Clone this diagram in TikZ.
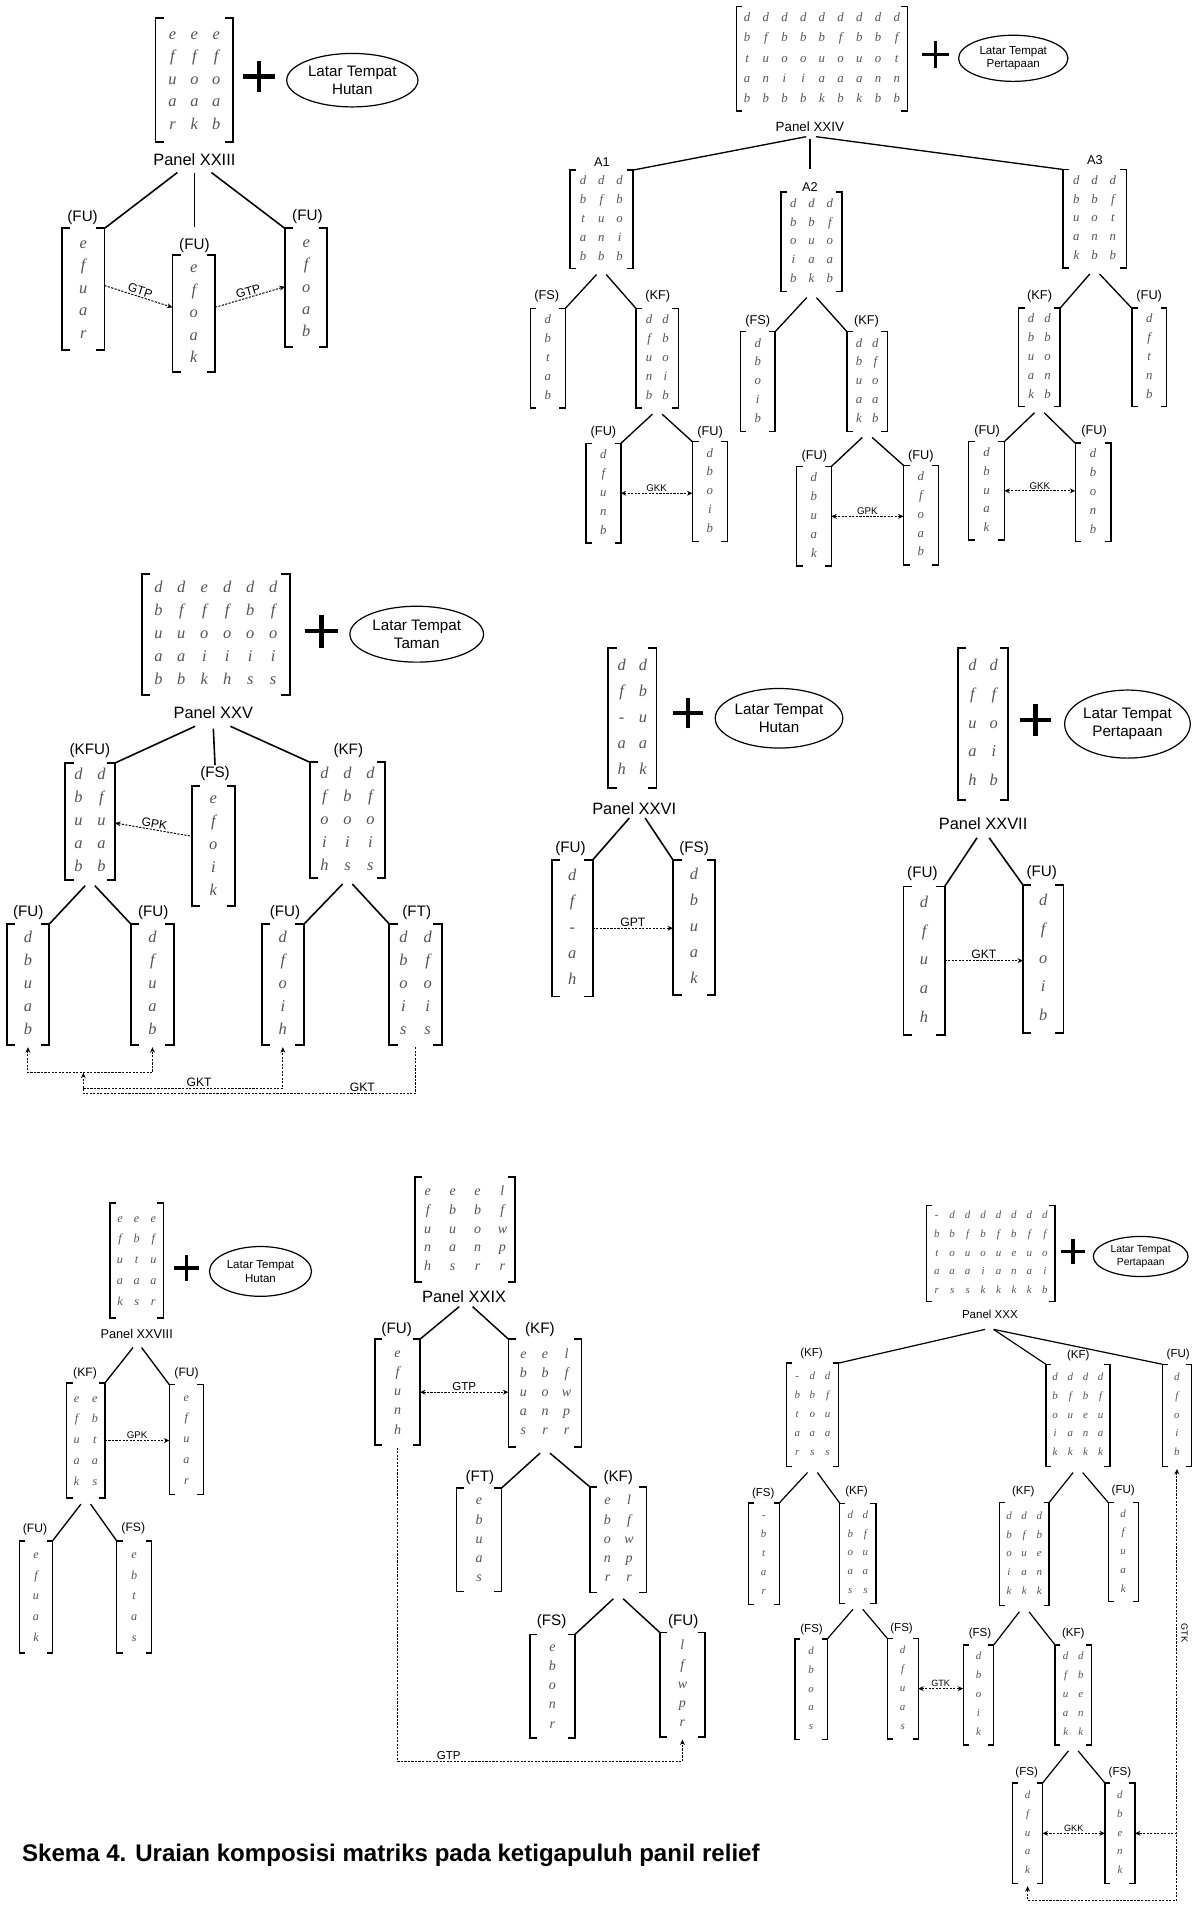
\documentclass[tikz,border=0pt]{standalone}
\usepackage{fontspec}
\setmainfont{Liberation Sans}
\newfontfamily\tms{Liberation Serif}
\usetikzlibrary{matrix,shapes.geometric,arrows.meta}
\definecolor{lg}{gray}{0.33}
\newcommand\fs[1]{\fontsize{#1}{#1}\selectfont}
\newcommand\setpanel[6]{\def\cw{#1pt}\def\ch{#2pt}\def\mfs{#3}\def\tk{#4pt}\def\bw{#5pt}\def\lw{#6pt}%
  \pgfmathsetmacro\mth{0.7*#3}\pgfmathsetmacro\mtd{0.2*#3}}
\newcommand\mx[5]{%
  \node[box, minimum width=#3pt, minimum height=#4pt] (#1) at (#2) {};
  \matrix[mat] at (#1.center) {#5};
  \draw[brk] ([xshift=\tk]#1.north west) -- (#1.north west) -- (#1.south west) -- ([xshift=\tk]#1.south west);
  \draw[brk] ([xshift=-\tk]#1.north east) -- (#1.north east) -- (#1.south east) -- ([xshift=-\tk]#1.south east);}
\newcommand\kids[3]{%
  \draw[ln] ([shift={(-4,5)}]#1.south) -- (#2.north east);
  \draw[ln] ([shift={(4,5)}]#1.south) -- (#3.north west);}
\newcommand\plussign[4]{\coordinate (#1) at (#2);
  \draw[line width=#4pt] ([xshift=-#3pt/2]#1) -- ([xshift=#3pt/2]#1);
  \draw[line width=#4pt] ([yshift=-#3pt/2]#1) -- ([yshift=#3pt/2]#1);}
\tikzset{
  box/.style={inner sep=0pt, outer sep=0pt},
  mat/.style={matrix of nodes, ampersand replacement=\&, inner sep=0pt, outer sep=0pt, row sep=0pt, column sep=0pt, anchor=center,
     nodes={inner sep=0pt, outer sep=0pt, anchor=center, minimum width=\cw, minimum height=\ch, text height=\mth pt, text depth=\mtd pt, text=lg, font=\tms\itshape\fs{\mfs}}},
  brk/.style={line width=\bw},
  ln/.style={line width=\lw},
  lab/.style={inner sep=0pt, font=\fs{12.5}},
  ell/.style={ellipse, draw, line width=1pt, inner sep=0pt, align=center},
  gd/.style={line width=0.8pt, dash pattern=on 1.8pt off 1.1pt},
  glab/.style={inner sep=1pt, font=\fs{10}},
}
\begin{document}
\begin{tikzpicture}[x=1pt,y=-1pt,>={Stealth[length=4.5pt,width=4pt]}]
\fill[white] (0,0) rectangle (981,1568);
\useasboundingbox (0,0) rectangle (981,1568);

% ===== Panel XXIII =====
\setpanel{18}{18.5}{13.5}{7}{1.6}{1.3}
\mx{m23}{160,66}{64}{102}{e\&e\&e\\ f\&f\&f\\ u\&o\&o\\ a\&a\&a\\ r\&k\&b\\}
\plussign{pl23}{213,63}{26}{3.5}
\node[ell, minimum width=108pt, minimum height=44pt, font=\fontsize{12.5}{14.5}\selectfont] (e23) at (290,66) {Latar Tempat\\Hutan};
\node[lab, font=\fs{13.5}] (p23) at (160,131) {Panel XXIII};
\mx{m23a}{68.5,238}{35}{100}{e\\ f\\ u\\ a\\ r\\}
\mx{m23b}{159.5,258}{35}{96}{e\\ f\\ o\\ a\\ k\\}
\mx{m23c}{252,237}{35}{98}{e\\ f\\ o\\ a\\ b\\}
\node[lab] (l23a) at (68,179) {(FU)};
\node[lab] (l23b) at (160,202) {(FU)};
\node[lab] (l23c) at (253,178) {(FU)};
\draw[ln] ([shift={(-14,11)}]p23.center) -- (m23a.north east);
\draw[ln] ([shift={(0,11)}]p23.center) -- ([shift={(0,-15)}]l23b.center);
\draw[ln] ([shift={(14,11)}]p23.center) -- (m23c.north west);
\draw[gd,->] ([shift={(0,-3)}]m23a.east) -- node[glab,sloped,above]{GTP} ([shift={(0,-5)}]m23b.west);
\draw[gd,->] ([shift={(0,-5)}]m23b.east) -- node[glab,sloped,above]{GTP} ([shift={(0,-1)}]m23c.west);

% ===== Panel XXIV =====
\setpanel{15.4}{16.8}{10.5}{5}{1.2}{1.1}
\mx{m24}{676.5,48.5}{141}{86}{d\&d\&d\&d\&d\&d\&d\&d\&d\\ b\&f\&b\&b\&b\&f\&b\&b\&f\\ t\&u\&o\&o\&u\&o\&u\&o\&t\\ a\&n\&i\&i\&a\&a\&a\&n\&n\\ b\&b\&b\&b\&k\&b\&k\&b\&b\\}
\plussign{pl24}{770,45}{22}{3}
\node[ell, minimum width=90pt, minimum height=38pt, font=\fontsize{9.5}{11}\selectfont] (e24) at (834,48) {Latar Tempat\\Pertapaan};
\node[lab, font=\fs{11}] (p24) at (666.6,104.5) {Panel XXIV};
\setpanel{15}{15.5}{10.5}{5}{1.2}{1.1}
\mx{m24a}{495,180.5}{52}{81}{d\&d\&d\\ b\&f\&b\\ t\&u\&o\\ a\&n\&i\\ b\&b\&b\\}
\mx{m24b}{668,199}{50}{82}{d\&d\&d\\ b\&b\&f\\ o\&u\&o\\ i\&a\&a\\ b\&k\&b\\}
\mx{m24c}{901,180}{52}{81}{d\&d\&d\\ b\&b\&f\\ u\&o\&t\\ a\&n\&n\\ k\&b\&b\\}
\tikzset{lab/.style={inner sep=0pt, font=\fs{10.5}}}
\node[lab] (la1) at (495.4,133.3) {A1};
\node[lab] (la2) at (666.6,153.9) {A2};
\node[lab] (la3) at (901.2,131.7) {A3};
\draw[ln] ([shift={(-3,8)}]p24.center) -- (m24a.north east);
\draw[ln] ([shift={(0,10)}]p24.center) -- ([shift={(0,-15)}]la2.center);
\draw[ln] ([shift={(5,8)}]p24.center) -- (m24c.north west);
\setpanel{13.5}{15.5}{10.5}{5}{1.2}{1.1}
\mx{m24d}{450.9,294.9}{28.7}{82}{d\\ b\\ t\\ a\\ b\\}
\mx{m24e}{541,294.9}{35}{82}{d\&d\\ f\&b\\ u\&o\\ n\&i\\ b\&b\\}
\mx{m24f}{496.6,406}{28.7}{82}{d\\ f\\ u\\ n\\ b\\}
\mx{m24g}{584.3,404.6}{28.7}{82}{d\\ b\\ o\\ i\\ b\\}
\mx{m24h}{623.7,314}{28.7}{82}{d\\ b\\ o\\ i\\ b\\}
\mx{m24i}{713.8,314}{33.3}{82}{d\&d\\ b\&f\\ u\&o\\ a\&a\\ k\&b\\}
\mx{m24j}{669.9,425}{28.7}{82}{d\\ b\\ u\\ a\\ k\\}
\mx{m24k}{758,424}{28.7}{82}{d\\ f\\ o\\ a\\ b\\}
\mx{m24l}{855.5,294.2}{34}{81}{d\&d\\ b\&b\\ u\&o\\ a\&n\\ k\&b\\}
\mx{m24m}{945.9,294.2}{28.6}{81}{d\\ f\\ t\\ n\\ b\\}
\mx{m24n}{812,404}{29.3}{81}{d\\ b\\ u\\ a\\ k\\}
\mx{m24o}{899.7,405.3}{29.3}{81}{d\\ b\\ o\\ n\\ b\\}
\node[lab] (l24d) at (450.1,244.1) {(FS)};
\node[lab] (l24e) at (541.4,244.1) {(KF)};
\node[lab] (l24f) at (496.7,356) {(FU)};
\node[lab] (l24g) at (584.4,356) {(FU)};
\node[lab] (l24h) at (623.7,264.7) {(FS)};
\node[lab] (l24i) at (713.2,264.7) {(KF)};
\node[lab] (l24j) at (670.3,375.8) {(FU)};
\node[lab] (l24k) at (758,375.5) {(FU)};
\node[lab] (l24l) at (855.7,244.1) {(KF)};
\node[lab] (l24m) at (945.9,244.1) {(FU)};
\node[lab] (l24n) at (812.4,355) {(FU)};
\node[lab] (l24o) at (900.5,355) {(FU)};
\kids{m24a}{m24d}{m24e}
\kids{m24e}{m24f}{m24g}
\kids{m24b}{m24h}{m24i}
\kids{m24i}{m24j}{m24k}
\kids{m24c}{m24l}{m24m}
\kids{m24l}{m24n}{m24o}
\tikzset{glab/.style={inner sep=1pt, font=\fs{8}}}
\draw[gd,<->] (m24f.east) -- node[glab,above]{GKK} (m24f.east -| m24g.west);
\draw[gd,<->] (m24j.east) -- node[glab,above]{GPK} (m24j.east -| m24k.west);
\draw[gd,<->] (m24n.east) -- node[glab,above]{GKK} (m24n.east -| m24o.west);

% ===== Panel XXV =====
\tikzset{lab/.style={inner sep=0pt, font=\fs{12.5}}, glab/.style={inner sep=1pt, font=\fs{10}}}
\setpanel{18.9}{18.9}{13.5}{7}{1.6}{1.3}
\mx{m25}{177.6,522.4}{122}{100}{d\&d\&e\&d\&d\&d\\ b\&f\&f\&f\&b\&f\\ u\&u\&o\&o\&o\&o\\ a\&a\&i\&i\&i\&i\\ b\&b\&k\&h\&s\&s\\}
\plussign{pl25}{264.7,519.5}{27}{3.5}
\node[ell, minimum width=110pt, minimum height=46pt, font=\fontsize{12.5}{14.5}\selectfont] (e25) at (343,522) {Latar Tempat\\Taman};
\node[lab, font=\fs{13.5}] (p25) at (175.6,586.8) {Panel XXV};
\mx{m25a}{74.1,676}{41.2}{96}{d\&d\\ b\&f\\ u\&u\\ a\&a\\ b\&b\\}
\mx{m25b}{175.6,696}{35.7}{98.7}{e\\ f\\ o\\ i\\ k\\}
\mx{m25c}{286,675}{61.8}{95.2}{d\&d\&d\\ f\&b\&f\\ o\&o\&o\\ i\&i\&i\\ h\&s\&s\\}
\mx{m25d}{23,810.3}{35}{99.3}{d\\ b\\ u\\ a\\ b\\}
\mx{m25e}{125.5,810.3}{35.4}{99.3}{d\\ f\\ u\\ a\\ b\\}
\mx{m25f}{232.8,810.3}{34.8}{99.3}{d\\ f\\ o\\ i\\ h\\}
\setpanel{20}{18.9}{13.5}{7}{1.6}{1.3}
\mx{m25g}{342,810.3}{43}{99.3}{d\&d\\ b\&f\\ o\&o\\ i\&i\\ s\&s\\}
\node[lab] (l25a) at (74,617.7) {(KFU)};
\node[lab] (l25b) at (177,636.8) {(FS)};
\node[lab] (l25c) at (286.7,617.7) {(KF)};
\node[lab] (l25d) at (23.3,751.2) {(FU)};
\node[lab] (l25e) at (126.2,751.2) {(FU)};
\node[lab] (l25f) at (234.6,751.2) {(FU)};
\node[lab] (l25g) at (343,751.2) {(FT)};
\draw[ln] ([shift={(-15,11)}]p25.center) -- (m25a.north east);
\draw[ln] ([shift={(0,13)}]p25.center) -- ([shift={(0,-7)}]l25b.center);
\draw[ln] ([shift={(14,11)}]p25.center) -- (m25c.north west);
\kids{m25a}{m25d}{m25e}
\kids{m25c}{m25f}{m25g}
\draw[gd,<-] ([shift={(0,1.4)}]m25a.east) -- node[glab,sloped,above]{GPK} ([shift={(0,-7.7)}]m25b.west);
\coordinate (c25a) at (68.6,883);
\coordinate (c25b) at (68.6,900);
\coordinate (c25c) at (68.6,895.7);
\draw[gd,<->] ([yshift=-2pt]m25d.south) |- (c25a) -| ([yshift=-2pt]m25e.south);
\draw[gd,->] ([yshift=-2pt]m25g.south) |- node[glab,above,pos=0.58]{GKT} (c25b) -- (c25a);
\draw[gd,->] (c25c) -| node[glab,above,pos=0.29]{GKT} ([yshift=-2pt]m25f.south);

% ===== Panel XXVI =====
\setpanel{17.6}{21.3}{13.5}{7}{1.5}{1.3}
\mx{m26}{520.5,591.2}{39.7}{115.2}{d\&d\\ f\&b\\ -\&u\\ a\&a\\ h\&k\\}
\plussign{pl26}{566.1,587.1}{25}{3.5}
\node[ell, minimum width=105pt, minimum height=49pt, font=\fontsize{12.5}{15}\selectfont] (e26) at (641.2,591.2) {Latar Tempat\\Hutan};
\node[lab, font=\fs{13.5}] (p26) at (522,665.3) {Panel XXVI};
\mx{m26a}{471,764}{33.8}{112.5}{d\\ f\\ -\\ a\\ h\\}
\mx{m26b}{571.3,763.4}{34.6}{111}{d\\ b\\ u\\ a\\ k\\}
\node[lab] (l26a) at (469.6,698.2) {(FU)};
\node[lab] (l26b) at (571.3,698.2) {(FS)};
\draw[ln] ([shift={(-4,8)}]p26.center) -- (m26a.north east);
\draw[ln] ([shift={(9,8)}]p26.center) -- (m26b.north west);
\draw[gd,->] (m26a.east) -- node[glab,above]{GPT} (m26a.east -| m26b.west);

% ===== Panel XXVII =====
\setpanel{17.6}{23.6}{13.5}{7}{1.5}{1.3}
\mx{m27}{809.2,596}{41.4}{124.8}{d\&d\\ f\&f\\ u\&o\\ a\&i\\ h\&b\\}
\plussign{pl27}{852.3,592.6}{26}{3.5}
\node[ell, minimum width=103.4pt, minimum height=56pt, font=\fontsize{12.5}{15}\selectfont] (e27) at (928,596) {Latar Tempat\\Pertapaan};
\node[lab, font=\fs{13.5}] (p27) at (809.2,677.6) {Panel XXVII};
\mx{m27a}{760.6,790.7}{33.8}{122}{d\\ f\\ u\\ a\\ h\\}
\mx{m27b}{858.7,789.4}{33.4}{122}{d\\ f\\ o\\ i\\ b\\}
\node[lab] (l27a) at (759.2,718.8) {(FU)};
\node[lab] (l27b) at (857.5,718.2) {(FU)};
\draw[ln] ([shift={(-5,12)}]p27.center) -- (m27a.north east);
\draw[ln] ([shift={(5,12)}]p27.center) -- (m27b.north west);
\draw[gd,->] (m27a.east) -- node[glab,above]{GKT} (m27a.east -| m27b.west);

% ===== Panel XXVIII =====
\setpanel{13.7}{17.1}{10}{5}{1.2}{1.1}
\mx{m28}{112.5,1037.6}{43.9}{94.7}{e\&e\&e\\ f\&b\&f\\ u\&t\&u\\ a\&a\&a\\ k\&s\&r\\}
\plussign{pl28}{153.6,1043.8}{21}{3}
\node[ell, minimum width=84pt, minimum height=41pt, font=\fontsize{9.5}{11.5}\selectfont] (e28) at (214.4,1046.5) {Latar Tempat\\Hutan};
\node[lab, font=\fs{10.5}] (p28) at (112.5,1098.1) {Panel XXVIII};
\setpanel{15}{17.1}{10}{5}{1.2}{1.1}
\mx{m28a}{70.6,1185.7}{31.5}{94.7}{e\&e\\ f\&b\\ u\&t\\ a\&a\\ k\&s\\}
\mx{m28b}{153.4,1185}{28}{90.5}{e\\ f\\ u\\ a\\ r\\}
\mx{m28c}{29.6,1314.4}{27.4}{92.4}{e\\ f\\ u\\ a\\ k\\}
\mx{m28d}{110.4,1314.4}{28.8}{92.4}{e\\ b\\ t\\ a\\ s\\}
\tikzset{lab/.style={inner sep=0pt, font=\fs{10}}}
\node[lab] (l28a) at (70,1130.2) {(KF)};
\node[lab] (l28b) at (153.6,1130.2) {(FU)};
\node[lab] (l28c) at (28.8,1259.1) {(FU)};
\node[lab] (l28d) at (109.7,1257.8) {(FS)};
\draw[ln] ([shift={(-3,11)}]p28.center) -- (m28a.north east);
\draw[ln] ([shift={(4,11)}]p28.center) -- (m28b.north west);
\kids{m28a}{m28c}{m28d}
\draw[gd,->] (m28a.east) -- node[glab,above,font=\fs{8}]{GPK} (m28a.east -| m28b.west);

% ===== Panel XXIX =====
\tikzset{lab/.style={inner sep=0pt, font=\fs{12.5}}, glab/.style={inner sep=1pt, font=\fs{9.5}}}
\setpanel{20.5}{15.5}{11.5}{6}{1.3}{1.2}
\mx{m29}{382.8,1012}{82.3}{86}{e\&e\&e\&l\\ f\&b\&b\&f\\ u\&u\&o\&w\\ n\&a\&n\&p\\ h\&s\&r\&r\\}
\node[lab, font=\fs{13.5}] (p29) at (382,1067) {Panel XXIX};
\setpanel{17.8}{15.8}{11.5}{6}{1.3}{1.2}
\mx{m29a}{327.2,1145.9}{37}{87.3}{e\\ f\\ u\\ n\\ h\\}
\mx{m29b}{448.6,1146.6}{60.3}{88.8}{e\&e\&l\\ b\&b\&f\\ u\&o\&w\\ a\&n\&p\\ s\&r\&r\\}
\mx{m29c}{394.3,1267.4}{37}{85.2}{e\\ b\\ u\\ a\\ s\\}
\mx{m29d}{508.9,1267.4}{46.6}{87}{e\&l\\ b\&f\\ o\&w\\ n\&p\\ r\&r\\}
\mx{m29e}{454.7,1387.9}{37}{85.2}{e\\ b\\ o\\ n\\ r\\}
\mx{m29f}{561.7,1386.8}{37}{86}{l\\ f\\ w\\ p\\ r\\}
\node[lab] (l29a) at (326.5,1094.6) {(FU)};
\node[lab] (l29b) at (444.4,1094.6) {(KF)};
\node[lab] (l29c) at (395,1216) {(FT)};
\node[lab] (l29d) at (508.9,1216) {(KF)};
\node[lab] (l29e) at (454,1335) {(FS)};
\node[lab] (l29f) at (562.4,1335) {(FU)};
\draw[ln] ([shift={(-4,8.5)}]p29.center) -- (m29a.north east);
\draw[ln] ([shift={(7,8.5)}]p29.center) -- (m29b.north west);
\kids{m29b}{m29c}{m29d}
\kids{m29d}{m29e}{m29f}
\draw[gd,<->] (m29a.east) -- node[glab,above]{GTP} (m29a.east -| m29b.west);
\draw[gd,->] ([yshift=-2pt]m29a.south) |- node[glab,above,pos=0.59]{GTP} ([yshift=-20pt]m29f.south) -- ([yshift=-2pt]m29f.south);

% ===== Panel XXX =====
\setpanel{12.7}{15.5}{9}{4.5}{1.1}{1}
\mx{m30}{815.5,1031.6}{105.6}{79.2}{-\&d\&d\&d\&d\&d\&d\&d\\ b\&b\&f\&b\&f\&b\&f\&f\\ t\&o\&u\&o\&u\&e\&u\&o\\ a\&a\&a\&i\&a\&n\&a\&i\\ r\&s\&s\&k\&k\&k\&k\&b\\}
\plussign{pl30}{883.4,1030.1}{20}{3}
\node[ell, minimum width=78pt, minimum height=33pt, font=\fontsize{8.5}{10}\selectfont] (e30) at (938.9,1034.2) {Latar Tempat\\Pertapaan};
\node[lab, font=\fs{9.5}] (p30) at (814.8,1082.2) {Panel XXX};
\setpanel{12.5}{15.5}{9}{4.5}{1.1}{1}
\mx{m30a}{668.7,1164.5}{42.5}{85}{-\&d\&d\\ b\&b\&f\\ t\&o\&u\\ a\&a\&a\\ r\&s\&s\\}
\mx{m30b}{887.2,1165}{52.7}{84.2}{d\&d\&d\&d\\ b\&f\&b\&f\\ o\&u\&e\&u\\ i\&a\&n\&a\\ k\&k\&k\&k\\}
\mx{m30c}{968.7,1165}{23.9}{84.2}{d\\ f\\ o\\ i\\ b\\}
\mx{m30d}{628.6,1279}{25.5}{83.7}{-\\ b\\ t\\ a\\ r\\}
\mx{m30e}{706.1,1278.4}{29.7}{82.3}{d\&d\\ b\&f\\ o\&u\\ a\&a\\ s\&s\\}
\mx{m30f}{667.6,1390.5}{26.6}{82.9}{d\\ b\\ o\\ a\\ s\\}
\mx{m30g}{743,1389.9}{25.5}{82.9}{d\\ f\\ u\\ a\\ s\\}
\mx{m30h}{843,1279.2}{41.1}{85}{d\&d\&d\\ b\&f\&b\\ o\&u\&e\\ i\&a\&n\\ k\&k\&k\\}
\mx{m30i}{924.5,1277.4}{24.7}{81.4}{d\\ f\\ u\\ a\\ k\\}
\mx{m30j}{805.4,1395}{25.2}{82.3}{d\\ b\\ o\\ i\\ k\\}
\mx{m30k}{883.4,1395}{30.2}{82.3}{d\&d\\ f\&b\\ u\&e\\ a\&n\\ k\&k\\}
\mx{m30m}{845.8,1509}{24.7}{82.9}{d\\ f\\ u\\ a\\ k\\}
\mx{m30n}{921.8,1509}{24.7}{82.9}{d\\ b\\ e\\ n\\ k\\}
\tikzset{lab/.style={inner sep=0pt, font=\fs{9.5}}, glab/.style={inner sep=1pt, font=\fs{7.5}}}
\node[lab] (l30a) at (668,1113.7) {(KF)};
\node[lab] (l30b) at (887.5,1116) {(KF)};
\node[lab] (l30c) at (969.8,1115.1) {(FU)};
\node[lab] (l30d) at (628.2,1229) {(FS)};
\node[lab] (l30e) at (705,1227.6) {(KF)};
\node[lab] (l30f) at (668,1341.5) {(FS)};
\node[lab] (l30g) at (742.1,1340.1) {(FS)};
\node[lab] (l30h) at (842.2,1227.6) {(KF)};
\node[lab] (l30i) at (924.5,1227) {(FU)};
\node[lab] (l30j) at (806.6,1344.2) {(FS)};
\node[lab] (l30k) at (883.4,1344.2) {(KF)};
\node[lab] (l30m) at (845,1458.9) {(FS)};
\node[lab] (l30n) at (921.8,1458.9) {(FS)};
\draw[ln] ([shift={(-4,12)}]p30.center) -- (m30a.north east);
\draw[ln] ([shift={(3,12)}]p30.center) -- (m30b.north west);
\draw[ln] ([shift={(3,12)}]p30.center) -- (m30c.north west);
\kids{m30a}{m30d}{m30e}
\kids{m30e}{m30f}{m30g}
\kids{m30b}{m30h}{m30i}
\kids{m30h}{m30j}{m30k}
\kids{m30k}{m30m}{m30n}
\draw[gd,<->] (m30g.east) -- node[glab,above]{GTK} (m30g.east -| m30j.west);
\draw[gd,<->] (m30m.east) -- node[glab,above]{GKK} (m30m.east -| m30n.west);
\coordinate (c30a) at (968.7,1564);
\coordinate (c30b) at (968.7,1509);
\draw[gd,<->] ([yshift=-2pt]m30c.south) -- (c30a) -| ([yshift=-2pt]m30m.south);
\draw[gd,->] (c30b) -- (c30b -| m30n.east);
\node[glab, rotate=-90] (g30) at (975,1344) {GTK};

% ===== Caption =====
\node[anchor=base west, inner sep=0pt, font=\bfseries\fs{19.8}] (cap) at (18,1532) {Skema 4. Uraian komposisi matriks pada ketigapuluh panil relief};
\end{tikzpicture}
\end{document}
